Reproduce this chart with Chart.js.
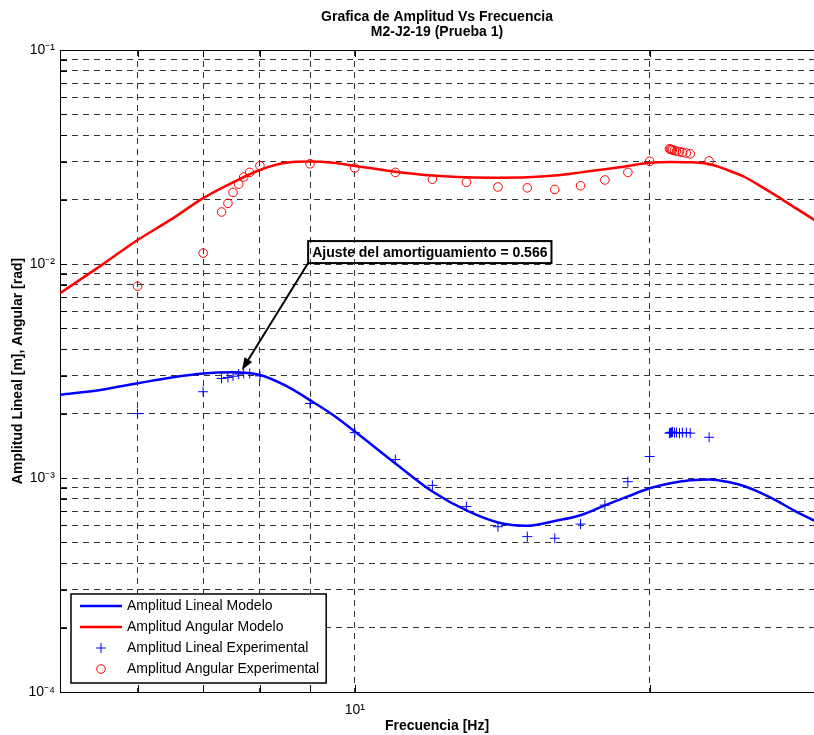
<!DOCTYPE html>
<html>
<head>
<meta charset="utf-8">
<script src="https://cdn.jsdelivr.net/npm/chart.js@4.4.1/dist/chart.umd.min.js"></script>
<style>
html, body { margin: 0; padding: 0; background: #fff; overflow: hidden; }
#wrap { width: 814px; height: 735px; }
</style>
</head>
<body>
<div id="wrap"><canvas id="ampChart"></canvas></div>
<script>
// modelo (curvas continuas)
var freqModel = [5, 5.5, 6, 6.5, 7, 7.5, 8, 8.5, 9, 9.5, 10, 11, 12, 13, 14, 15, 16, 17, 18, 19, 20, 21, 22, 23, 24, 25, 26, 27, 28, 29.5];
var linModel = [2.45e-3, 2.58e-3, 2.77e-3, 2.95e-3, 3.08e-3, 3.12e-3, 3.03e-3, 2.70e-3, 2.31e-3, 1.97e-3, 1.65e-3, 1.17e-3, 8.65e-4, 7.05e-4, 6.2e-4, 5.98e-4, 6.3e-4, 6.7e-4, 7.45e-4, 8.2e-4, 8.95e-4, 9.45e-4, 9.75e-4, 9.85e-4, 9.6e-4, 9.15e-4, 8.5e-4, 7.8e-4, 7.1e-4, 6.3e-4];
var angModel = [7.3e-3, 9.8e-3, 0.01294, 0.0162, 0.0203, 0.0240, 0.0275, 0.0297, 0.0301, 0.0297, 0.0287, 0.0270, 0.0259, 0.0254, 0.0253, 0.0254, 0.0259, 0.0268, 0.0277, 0.0287, 0.0297, 0.0300, 0.0299, 0.0293, 0.0275, 0.0255, 0.0230, 0.0207, 0.0186, 0.0160];

// puntos experimentales
var freqExp = [6, 7, 7.31, 7.42, 7.51, 7.61, 7.70, 7.81, 8, 9, 10, 11, 12, 13, 14, 15, 16, 17, 18, 19, 20, 20.95, 21.0, 21.05, 21.1, 21.2, 21.3, 21.45, 21.6, 21.8, 22.0, 23];
var linExp = [2.0e-3, 2.53e-3, 2.92e-3, 2.95e-3, 2.99e-3, 3.06e-3, 3.08e-3, 3.08e-3, 3.0e-3, 2.23e-3, 1.63e-3, 1.22e-3, 9.24e-4, 7.35e-4, 5.92e-4, 5.32e-4, 5.23e-4, 6.09e-4, 7.47e-4, 9.61e-4, 1.26e-3, 1.62e-3, 1.63e-3, 1.63e-3, 1.64e-3, 1.63e-3, 1.63e-3, 1.62e-3, 1.63e-3, 1.63e-3, 1.62e-3, 1.55e-3];
var angExp = [7.88e-3, 0.01125, 0.0175, 0.0192, 0.0216, 0.0236, 0.0255, 0.0268, 0.0288, 0.0294, 0.0281, 0.0268, 0.0249, 0.0241, 0.0229, 0.0227, 0.0223, 0.0232, 0.0247, 0.0268, 0.0302, 0.0345, 0.0344, 0.0343, 0.0341, 0.0339, 0.0337, 0.0335, 0.0332, 0.0330, 0.0327, 0.0303];

// ejes
var xTicks = [5, 6, 7, 8, 9, 10, 20];
var yDecades = [1e-4, 1e-3, 1e-2];
var yTicks = [];
yDecades.forEach(function (d) {
  for (var k = 1; k < 10; k++) yTicks.push(d * k);
});
yTicks.push(1e-1);

var annoText = 'Ajuste del amortiguamiento = 0.566';
var annoAnchor = [8.96, 0.0101];
var annoTip = [7.67, 3.2e-3];

var fontFam = '"Liberation Sans", Arial, sans-serif';
var sup = { '-': '\u207B', '0': '\u2070', '1': '\u00B9', '2': '\u00B2', '3': '\u00B3', '4': '\u2074', '5': '\u2075' };

function powLabel(v) {
  var e = Math.round(Math.log10(v));
  if (Math.abs(v / Math.pow(10, e) - 1) > 1e-6) return '';
  return '10' + String(e).split('').map(function (c) { return sup[c]; }).join('');
}

function pts(xs, ys) {
  return xs.map(function (x, i) { return { x: x, y: ys[i] }; });
}

var framePlugin = {
  id: 'frame',
  beforeDatasetsDraw: function (chart) {
    var a = chart.chartArea, c = chart.ctx, sx = chart.scales.x, sy = chart.scales.y;
    c.save();
    c.strokeStyle = '#000';
    c.lineWidth = 1;
    c.beginPath();
    c.moveTo(a.left, a.top + 0.5);
    c.lineTo(a.right, a.top + 0.5);
    xTicks.forEach(function (v) {
      var px = Math.round(sx.getPixelForValue(v)) + 0.5;
      c.moveTo(px, a.bottom); c.lineTo(px, a.bottom - 7);
      c.moveTo(px, a.top); c.lineTo(px, a.top + 7);
    });
    yTicks.forEach(function (v) {
      var py = Math.round(sy.getPixelForValue(v)) + 0.5;
      c.moveTo(a.left, py); c.lineTo(a.left + 7, py);
    });
    c.stroke();
    c.restore();
  }
};

var annoPlugin = {
  id: 'anno',
  afterDraw: function (chart) {
    var c = chart.ctx, sx = chart.scales.x, sy = chart.scales.y;
    var bx = sx.getPixelForValue(annoAnchor[0]), by = sy.getPixelForValue(annoAnchor[1]);
    var tx = sx.getPixelForValue(annoTip[0]), ty = sy.getPixelForValue(annoTip[1]);
    c.save();
    c.font = 'bold 14px ' + fontFam;
    var w = c.measureText(annoText).width + 8, h = 22;
    c.strokeStyle = '#000';
    c.lineWidth = 2;
    c.strokeRect(bx, by - h, w, h);
    c.fillStyle = '#000';
    c.textAlign = 'left';
    c.textBaseline = 'middle';
    c.fillText(annoText, bx + 4, by - h / 2 + 1);
    // flecha
    var ang = Math.atan2(ty - by, tx - bx), L = 12, W = 4.5;
    var ex = tx - L * Math.cos(ang), ey = ty - L * Math.sin(ang);
    c.beginPath();
    c.moveTo(bx, by);
    c.lineTo(ex, ey);
    c.stroke();
    c.beginPath();
    c.moveTo(tx, ty);
    c.lineTo(ex + W * Math.sin(ang), ey - W * Math.cos(ang));
    c.lineTo(ex - W * Math.sin(ang), ey + W * Math.cos(ang));
    c.closePath();
    c.fill();
    c.restore();
  }
};

var legendPlugin = {
  id: 'boxLegend',
  afterDraw: function (chart) {
    var a = chart.chartArea, c = chart.ctx, sets = chart.data.datasets;
    var x0 = a.left + 11, y0 = a.bottom - 98, rowH = 21;
    c.save();
    c.font = '14px ' + fontFam;
    var tw = 0;
    sets.forEach(function (d) { tw = Math.max(tw, c.measureText(d.label).width); });
    var w = 56 + tw + 7, h = 89;
    c.fillStyle = '#fff';
    c.fillRect(x0, y0, w, h);
    c.strokeStyle = '#000';
    c.lineWidth = 1.5;
    c.strokeRect(x0, y0, w, h);
    sets.forEach(function (d, i) {
      var cy = y0 + 12 + i * rowH, mx = x0 + 30;
      c.strokeStyle = d.borderColor;
      c.beginPath();
      if (d.showLine) {
        c.lineWidth = 2.5;
        c.moveTo(x0 + 9, cy); c.lineTo(x0 + 51, cy);
      } else if (d.pointStyle === 'cross') {
        c.lineWidth = 1;
        c.moveTo(mx - 5, cy); c.lineTo(mx + 5, cy);
        c.moveTo(mx, cy - 5); c.lineTo(mx, cy + 5);
      } else {
        c.lineWidth = 1;
        c.arc(mx, cy, 4.3, 0, Math.PI * 2);
      }
      c.stroke();
      c.fillStyle = '#000';
      c.textAlign = 'left';
      c.textBaseline = 'middle';
      c.fillText(d.label, x0 + 56, cy + 0.5);
    });
    c.restore();
  }
};

Chart.defaults.font.family = fontFam;
Chart.defaults.color = '#000';

var ctx = document.getElementById('ampChart').getContext('2d');
var myChart = new Chart(ctx, {
  type: 'scatter',
  data: {
    datasets: [
      {
        label: 'Amplitud Lineal Modelo',
        data: pts(freqModel, linModel),
        showLine: true,
        borderColor: '#0000ff',
        borderWidth: 2.5,
        pointRadius: 0,
        cubicInterpolationMode: 'monotone',
        order: 2,
      },
      {
        label: 'Amplitud Angular Modelo',
        data: pts(freqModel, angModel),
        showLine: true,
        borderColor: '#ff0000',
        borderWidth: 2.5,
        pointRadius: 0,
        cubicInterpolationMode: 'monotone',
        order: 2,
      },
      {
        label: 'Amplitud Lineal Experimental',
        data: pts(freqExp, linExp),
        showLine: false,
        pointStyle: 'cross',
        pointRadius: 5,
        borderColor: '#0000ff',
        borderWidth: 1,
        order: 1,
      },
      {
        label: 'Amplitud Angular Experimental',
        data: pts(freqExp, angExp),
        showLine: false,
        pointStyle: 'circle',
        pointRadius: 4.3,
        borderColor: '#ff0000',
        backgroundColor: 'rgba(0,0,0,0)',
        borderWidth: 1,
        order: 1,
      },
    ],
  },
  options: {
    responsive: true,
    maintainAspectRatio: false,
    animation: false,
    layout: { padding: 0, autoPadding: false },
    plugins: {
      legend: { display: false },
      tooltip: { enabled: false },
      title: {
        display: true,
        fullSize: false,
        text: ['Grafica de Amplitud Vs Frecuencia', 'M2-J2-19 (Prueba 1)'],
        font: { size: 14, weight: 'bold', lineHeight: 15 / 14 },
        padding: { top: 10, bottom: 10 },
        color: '#000',
      },
    },
    scales: {
      x: {
        type: 'logarithmic',
        min: 5,
        max: 29.43,
        afterBuildTicks: function (s) { s.ticks = xTicks.map(function (v) { return { value: v }; }); },
        afterFit: function (s) { s.height = 43; s.paddingLeft = 0; s.paddingRight = 0; },
        ticks: { autoSkip: false, maxRotation: 0, padding: 10, font: { size: 14 }, callback: powLabel },
        grid: { color: '#333', lineWidth: 1, drawTicks: false },
        border: { display: true, color: '#000', width: 1, dash: [6, 5] },
        title: { display: true, text: 'Frecuencia [Hz]', font: { size: 14, weight: 'bold' }, padding: { top: 0, bottom: 0 } },
      },
      y: {
        type: 'logarithmic',
        min: 1e-4,
        max: 1e-1,
        afterBuildTicks: function (s) { s.ticks = yTicks.map(function (v) { return { value: v }; }); },
        afterFit: function (s) { s.width = 60; s.paddingTop = 0; s.paddingBottom = 0; },
        ticks: { autoSkip: false, padding: 5, font: { size: 14 }, callback: powLabel },
        grid: { color: '#333', lineWidth: 1, drawTicks: false },
        border: { display: true, color: '#000', width: 1, dash: [6, 5] },
        title: { display: true, text: 'Amplitud Lineal [m], Angular [rad]', font: { size: 14, weight: 'bold' }, padding: { top: 9.6, bottom: 0 } },
      },
    },
  },
  plugins: [framePlugin, annoPlugin, legendPlugin],
});
</script>
</body>
</html>
